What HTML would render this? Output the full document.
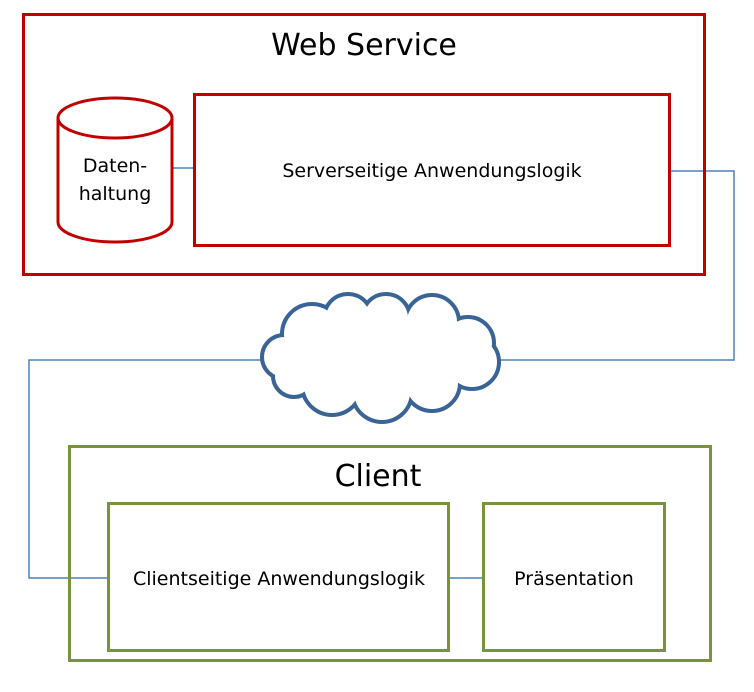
<!DOCTYPE html>
<html><head><meta charset="utf-8"><style>
html,body{margin:0;padding:0;background:#fff;}
svg{display:block;font-family:"Liberation Sans",sans-serif;}
</style></head><body>
<svg width="754" height="692" viewBox="0 0 754 692">
<g fill="none" stroke="#4f81bd" stroke-width="1.5">
<line x1="172" y1="168" x2="194" y2="168"/>
<polyline points="670,171 734,171 734,360 500,360"/>
<polyline points="262,360 29,360 29,578 108,578"/>
<line x1="449" y1="578" x2="483" y2="578"/>
</g>
<rect x="23.5" y="14.5" width="681" height="260" fill="none" stroke="#c00000" stroke-width="3"/>
<text x="364" y="55" font-size="30" text-anchor="middle" font-family="DejaVu Sans, sans-serif">Web Service</text>
<rect x="194.5" y="94.5" width="475" height="151" fill="none" stroke="#c00000" stroke-width="3"/>
<text x="432" y="177" font-size="19" text-anchor="middle" font-family="DejaVu Sans, sans-serif">Serverseitige Anwendungslogik</text>
<path d="M58,118 L58,222 A57,20 0 0 0 172,222 L172,118" fill="#fff" stroke="#c00000" stroke-width="3"/>
<ellipse cx="115" cy="118" rx="57" ry="20" fill="#fff" stroke="#c00000" stroke-width="3"/>
<text x="115" y="172" font-size="19" text-anchor="middle" font-family="DejaVu Sans, sans-serif">Daten-</text>
<text x="115" y="200" font-size="19" text-anchor="middle" font-family="DejaVu Sans, sans-serif">haltung</text>
<g stroke="#3a6496" stroke-width="8" fill="#fff">
<circle cx="284" cy="357" r="20"/>
<circle cx="312" cy="334" r="28"/>
<circle cx="348" cy="318" r="22"/>
<circle cx="386" cy="318" r="22"/>
<circle cx="432" cy="322" r="25"/>
<circle cx="468" cy="343" r="24"/>
<circle cx="472" cy="362" r="25"/>
<circle cx="432" cy="383" r="26"/>
<circle cx="382" cy="392" r="28"/>
<circle cx="332" cy="385" r="28"/>
<circle cx="294" cy="376" r="19"/>
</g>
<g fill="#fff">
<circle cx="284" cy="357" r="20"/>
<circle cx="312" cy="334" r="28"/>
<circle cx="348" cy="318" r="22"/>
<circle cx="386" cy="318" r="22"/>
<circle cx="432" cy="322" r="25"/>
<circle cx="468" cy="343" r="24"/>
<circle cx="472" cy="362" r="25"/>
<circle cx="432" cy="383" r="26"/>
<circle cx="382" cy="392" r="28"/>
<circle cx="332" cy="385" r="28"/>
<circle cx="294" cy="376" r="19"/>
<ellipse cx="380" cy="356" rx="95" ry="40"/>
</g>
<rect x="69.5" y="446.5" width="641" height="214" fill="none" stroke="#77933c" stroke-width="3"/>
<text x="378" y="486" font-size="30" text-anchor="middle" font-family="DejaVu Sans, sans-serif">Client</text>
<rect x="108.5" y="503.5" width="340" height="147" fill="none" stroke="#77933c" stroke-width="3"/>
<text x="279" y="585" font-size="19" text-anchor="middle" font-family="DejaVu Sans, sans-serif">Clientseitige Anwendungslogik</text>
<rect x="483.5" y="503.5" width="181" height="147" fill="none" stroke="#77933c" stroke-width="3"/>
<text x="574" y="585" font-size="19" text-anchor="middle" font-family="DejaVu Sans, sans-serif">Präsentation</text>
</svg>
</body></html>
